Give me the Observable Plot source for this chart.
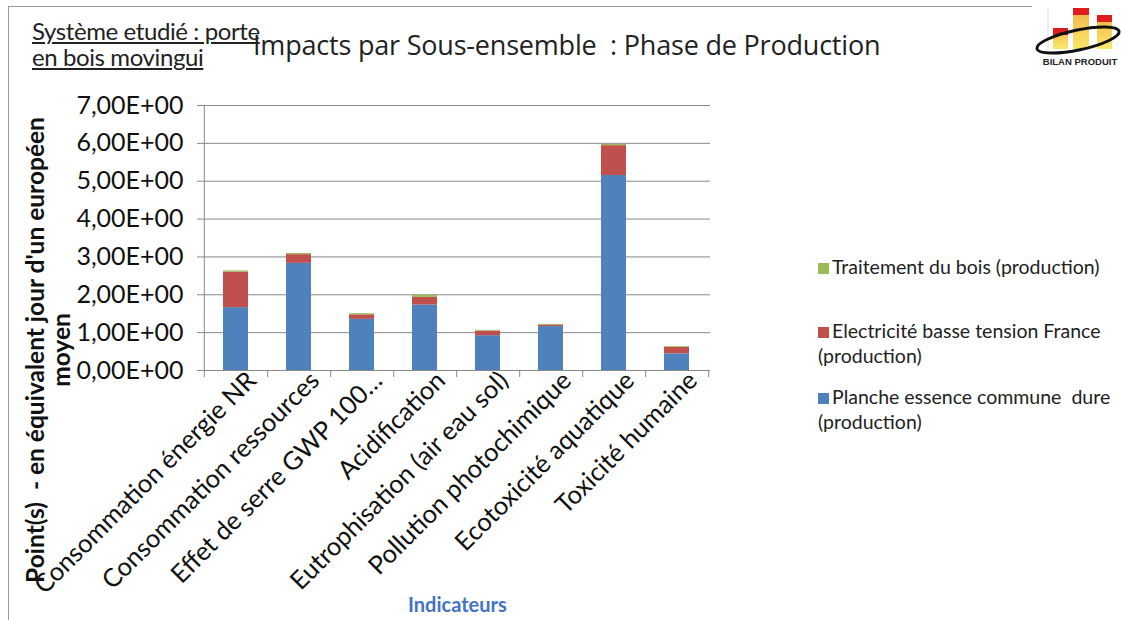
<!DOCTYPE html>
<html><head><meta charset="utf-8">
<script src="https://cdn.jsdelivr.net/npm/d3@7"></script>
<script src="https://cdn.jsdelivr.net/npm/@observablehq/plot@0.6"></script>
<style>
body{margin:0;background:#fff;font-family:Lato,"Open Sans",sans-serif;}
#wrap{position:relative;width:1122px;height:620px;overflow:hidden;background:#fff;}
#chart{position:absolute;left:0;top:0;}
#btop{position:absolute;left:8px;top:6px;width:1024px;height:0;border-top:1px solid #999;}
#bleft{position:absolute;left:8px;top:6px;width:0;height:614px;border-left:1px solid #999;}
.sub{position:absolute;left:32px;font-size:24px;line-height:24px;color:#222;text-decoration:underline;letter-spacing:-0.4px;white-space:nowrap;}
#title{position:absolute;left:253px;top:26px;font-size:27px;color:#222;white-space:nowrap;font-family:"Open Sans",sans-serif;letter-spacing:-0.2px;}
#ylab{position:absolute;left:48px;top:350px;width:540px;transform:translate(-50%,-50%) rotate(-90deg);text-align:center;font-weight:bold;font-size:24.5px;line-height:26px;color:#111;white-space:nowrap;}
#xlab{position:absolute;left:408px;top:592px;font-weight:bold;font-size:20px;color:#4472C4;}
.leg{position:absolute;left:818px;font-size:19.5px;line-height:25px;color:#222;}
.sw{display:inline-block;width:11px;height:11px;margin-right:3px;}
#logo{position:absolute;left:1030px;top:0;}
</style></head><body>
<div id="wrap">
<div id="btop"></div><div id="bleft"></div>
<div class="sub" style="top:19px">Système etudié : porte</div>
<div class="sub" style="top:45px">en bois movingui</div>
<div id="title">Impacts par Sous-ensemble&nbsp; : Phase de Production</div>
<div id="chart"></div>
<div id="ylab">Point(s)&nbsp; - en équivalent jour d'un européen<br>moyen</div>
<div id="xlab">Indicateurs</div>
<div id="legend"></div>
<svg id="logo" width="92" height="72" viewBox="0 0 92 72">
  <defs><linearGradient id="gy" x1="0" y1="0" x2="0" y2="1"><stop offset="0" stop-color="#f2b24a"/><stop offset="1" stop-color="#fbe96a"/></linearGradient></defs>
  <line x1="18" y1="8" x2="18" y2="50" stroke="#ddd"/>
  <rect x="23" y="28" width="15" height="21" fill="url(#gy)"/>
  <rect x="23" y="28" width="15" height="7" fill="#e01b1b"/>
  <rect x="43" y="8" width="16" height="41" fill="url(#gy)"/>
  <rect x="43" y="8" width="16" height="7" fill="#e01b1b"/>
  <rect x="67" y="15" width="15" height="34" fill="url(#gy)"/>
  <rect x="67" y="15" width="15" height="7" fill="#e01b1b"/>
  <ellipse cx="48" cy="40" rx="42" ry="10" transform="rotate(-12 48 40)" fill="none" stroke="#111" stroke-width="3"/>
  <text x="50" y="65" text-anchor="middle" font-size="9.5" font-weight="bold" font-family="Liberation Sans Narrow, Arial, sans-serif" fill="#222">BILAN PRODUIT</text>
</svg>
</div>
<script>
const categories = ["Consommation énergie NR","Consommation ressources","Effet de serre GWP 100…","Acidification","Eutrophisation (air eau sol)","Pollution photochimique","Ecotoxicité aquatique","Toxicité humaine"];
const series = ["Planche essence commune  dure (production)","Electricité basse tension France (production)","Traitement du bois (production)"];
const planche = [1.66,2.83,1.35,1.73,0.92,1.16,5.15,0.44];
const electricite = [0.94,0.23,0.12,0.20,0.12,0.04,0.79,0.17];
const traitement = [0.03,0.03,0.03,0.06,0.02,0.02,0.03,0.02];
const colors = ["#4F81BD","#C0504D","#9BBB59"];
const yTicks = [0,1,2,3,4,5,6,7];

const rows = [];
[planche, electricite, traitement].forEach((vals, s) => {
  vals.forEach((v, i) => rows.push({cat: categories[i], serie: series[s], value: v}));
});

const W = 1122, H = 620, mL = 203, mR = 412, mT = 105, mB = 250;
const step = (W - mL - mR) / categories.length;

const chart = Plot.plot({
  width: W, height: H,
  marginLeft: mL, marginRight: mR, marginTop: mT, marginBottom: mB,
  style: {fontFamily: "Lato, sans-serif", background: "transparent", color: "#111"},
  x: {domain: categories, paddingInner: 0.6, paddingOuter: 0.3, label: null},
  y: {domain: [0, 7], label: null},
  color: {domain: series, range: colors},
  marks: [
    Plot.gridY(yTicks, {stroke: "#888", strokeOpacity: 1}),
    Plot.ruleX([categories[0]], {dx: -step / 2, stroke: "#888"}),
    Plot.barY(rows, {x: "cat", y: "value", fill: "serie"}),
    Plot.ruleY([0], {stroke: "#888"}),
    Plot.axisY({ticks: yTicks, tickSize: 6, tickPadding: 14, stroke: "#888", fontSize: 25,
      tickFormat: d => d.toFixed(2).replace(".", ",") + "E+00"}),
    Plot.axisX({tickSize: 7, dx: step / 2, tickFormat: null, stroke: "#888"}),
    Plot.axisX([categories[0]], {tickSize: 7, dx: -step / 2, tickFormat: null, stroke: "#888"}),
    Plot.axisX({tickSize: 0, tickRotate: -45, fontSize: 25.5, dx: 16, dy: 2, tickPadding: 4})
  ]
});
document.getElementById("chart").appendChild(chart);

const legendItems = [
  {s: 2, top: 254, lines: ["Traitement du bois (production)"]},
  {s: 1, top: 318, lines: ["Electricité basse tension France", "(production)"]},
  {s: 0, top: 384, lines: ["Planche essence commune&nbsp; dure", "(production)"]}
];
const lg = document.getElementById("legend");
legendItems.forEach(it => {
  const d = document.createElement("div");
  d.className = "leg";
  d.style.top = it.top + "px";
  d.innerHTML = `<span class="sw" style="background:${colors[it.s]}"></span>${it.lines[0]}` +
    (it.lines[1] ? `<br>${it.lines[1]}` : "");
  lg.appendChild(d);
});
</script>
</body></html>
